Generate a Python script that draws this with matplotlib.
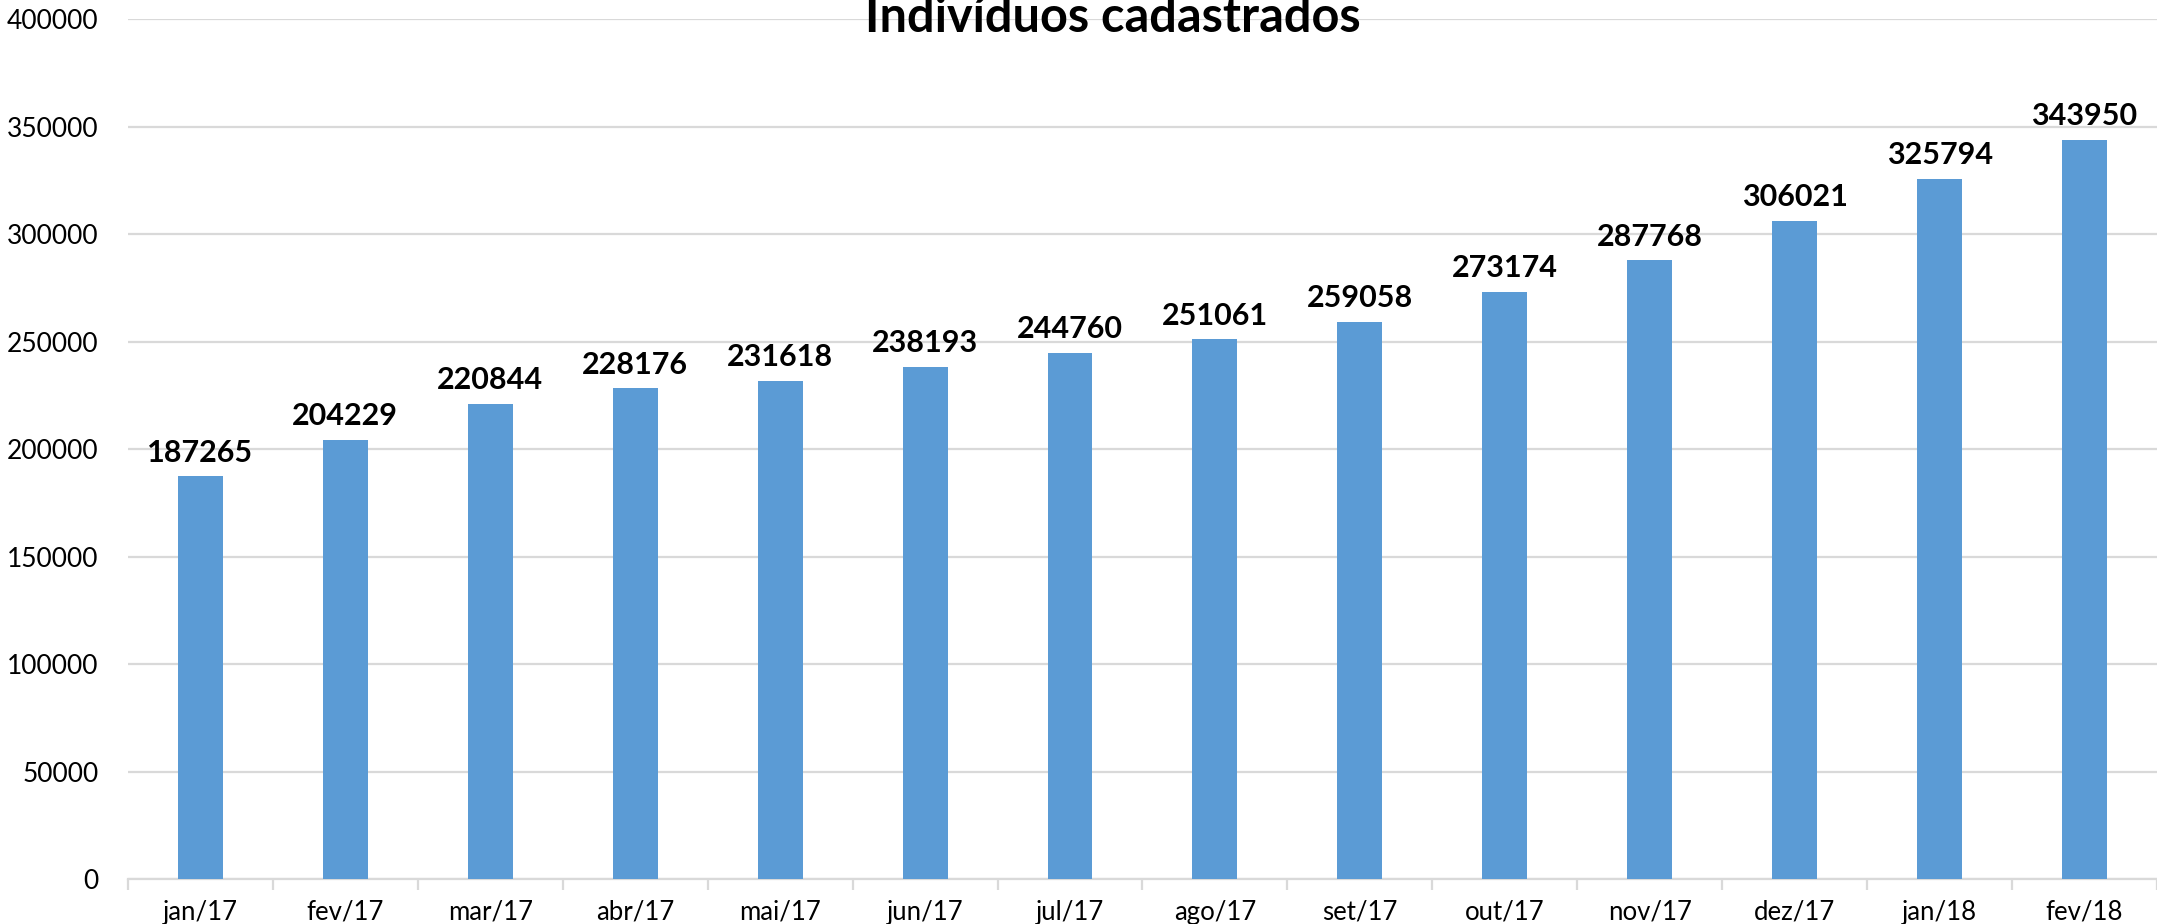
import matplotlib
matplotlib.use("Agg")
import matplotlib.pyplot as plt
from matplotlib.ticker import FixedLocator, NullFormatter

# ---------------- DATA ----------------

months = ["jan/17", "fev/17", "mar/17", "abr/17", "mai/17", "jun/17", "jul/17",
          "ago/17", "set/17", "out/17", "nov/17", "dez/17", "jan/18", "fev/18"]
cadastrados = [187265, 204229, 220844, 228176, 231618, 238193, 244760,
               251061, 259058, 273174, 287768, 306021, 325794, 343950]
y_ticks = [0, 50000, 100000, 150000, 200000, 250000, 300000, 350000, 400000]

# ---------------- CHART ----------------

plt.rcParams["font.family"] = ["Lato", "DejaVu Sans"]

fig = plt.figure(figsize=(21.57, 9.24), dpi=100)
ax = fig.add_axes([0.0593, 0.0487, 0.9407, 0.9307])

x = list(range(len(months)))
bars = ax.bar(x, cadastrados, width=0.31, color="#5B9BD5", zorder=3)

for xi, val in zip(x, cadastrados):
    ax.annotate(str(val), (xi, val), xytext=(0, 7), textcoords="offset points",
                ha="center", va="bottom", fontsize=22, fontweight="bold", color="black")

ax.set_xlim(-0.5, len(months) - 0.5)
ax.set_ylim(0, 400000)
ax.set_yticks(y_ticks)
ax.set_yticklabels([str(t) for t in y_ticks], fontsize=19)
ax.yaxis.grid(True, color="#d9d9d9", linewidth=1.6, zorder=0)
ax.tick_params(axis="y", length=0, pad=21)

# category labels at the centres, small ticks between the categories
ax.set_xticks(x)
ax.set_xticklabels(months, fontsize=18.5)
ax.tick_params(axis="x", which="major", length=0, pad=15)
ax.xaxis.set_minor_locator(FixedLocator([i - 0.5 for i in range(len(months) + 1)]))
ax.xaxis.set_minor_formatter(NullFormatter())
ax.tick_params(axis="x", which="minor", length=8, width=1.6, color="#d9d9d9")

for side in ["left", "right", "top"]:
    ax.spines[side].set_visible(False)
ax.spines["bottom"].set_color("#d9d9d9")
ax.spines["bottom"].set_linewidth(1.6)

fig.text(0.516, 0.965, "Indivíduos cadastrados", ha="center", va="baseline",
         fontsize=35, fontweight="bold", color="black")

fig.savefig("out.png", dpi=100)
